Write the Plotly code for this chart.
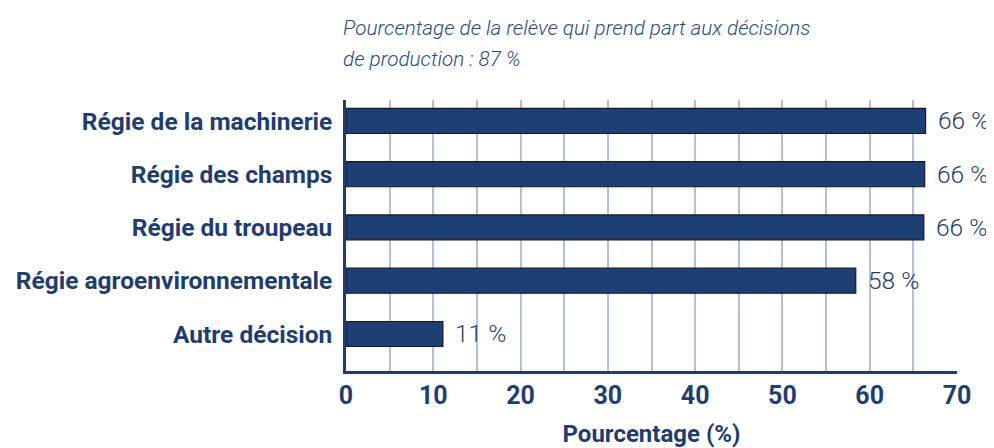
import plotly.graph_objects as go

categories = ["Régie de la machinerie", "Régie des champs", "Régie du troupeau",
              "Régie agroenvironnementale", "Autre décision"]
values = [66.4, 66.3, 66.2, 58.4, 11.1]
value_labels = ["66 %", "66 %", "66 %", "58 %", "11 %"]
x_ticks = [0, 10, 20, 30, 40, 50, 60, 70]

title_lines = ["Pourcentage de la relève qui prend part aux décisions",
               "de production : 87 %"]

DARK = "#1f3d70"
BAR = "#1e3f73"
GRID = "#b7bedb"

fig = go.Figure()
fig.add_trace(go.Bar(
    x=values, y=categories, orientation="h", width=0.47,
    marker=dict(color=BAR, line=dict(color="#15182a", width=1.2)),
    hoverinfo="x+y",
))

for c, v, t in zip(categories, values, value_labels):
    fig.add_annotation(x=v, y=c, text=t, xanchor="left", yanchor="middle",
                       xshift=10, showarrow=False,
                       font=dict(family="Roboto", size=24.5, color=DARK, weight=300))

for i, line in enumerate(title_lines):
    fig.add_annotation(xref="paper", yref="paper", x=-0.008, y=1.0, yshift=72 - 31 * i,
                       xanchor="left", yanchor="middle", align="left", showarrow=False,
                       text=line,
                       font=dict(family="Roboto", size=20.7, color="#284a84",
                                 style="italic", weight=300))

fig.update_layout(
    width=986, height=440,
    margin=dict(l=338, r=37, t=92, b=77, autoexpand=False),
    plot_bgcolor="white", paper_bgcolor="white",
    showlegend=False,
    xaxis=dict(range=[0, 70], tickvals=x_ticks, showgrid=True, gridcolor=GRID, gridwidth=1.5,
               minor=dict(dtick=5, showgrid=True, gridcolor=GRID, gridwidth=1.5),
               showline=True, linecolor=DARK, linewidth=2.5, zeroline=False,
               ticks="", ticklabelstandoff=0, automargin=False,
               tickfont=dict(family="Roboto", size=25, color=DARK, weight=700),
               title=dict(text="Pourcentage (%)", standoff=22,
                          font=dict(family="Roboto", size=24, color=DARK, weight=700))),
    yaxis=dict(range=[4.695, -0.394], type="category", showline=True, linecolor=DARK,
               linewidth=2.5, showgrid=False, ticks="", ticklabelstandoff=6, automargin=False,
               tickfont=dict(family="Roboto", size=24.5, color=DARK, weight=700)),
)

fig.write_html("out.html")
